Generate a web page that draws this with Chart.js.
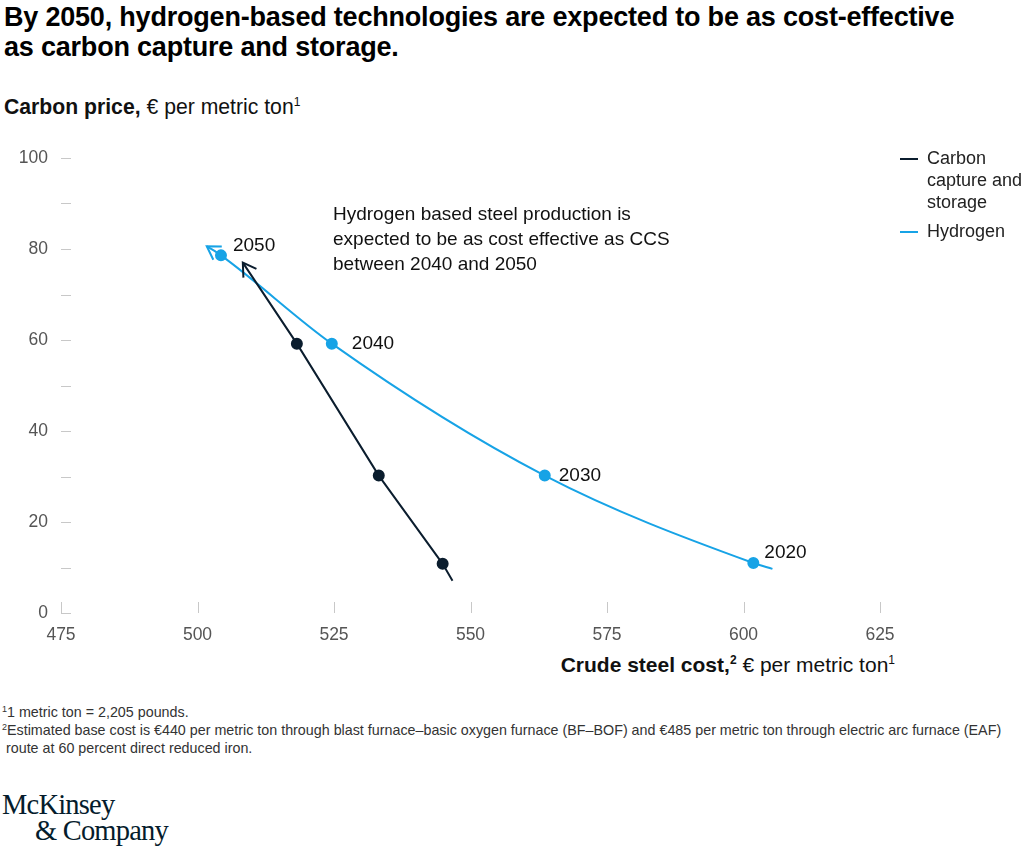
<!DOCTYPE html>
<html>
<head>
<meta charset="utf-8">
<script src="https://cdn.jsdelivr.net/npm/chart.js@4.4.1/dist/chart.umd.min.js"></script>
<style>
  body { margin: 0; width: 1024px; height: 854px; background: #fff; position: relative; overflow: hidden;
         font-family: "Liberation Sans", Arial, sans-serif; color: #111; }
  .abs { position: absolute; white-space: nowrap; }
  #title { left: 4px; top: 2px; font-size: 27px; font-weight: bold; line-height: 30px; color: #000; letter-spacing: -0.2px; }
  #ytitle { left: 4px; top: 95px; font-size: 21.2px; color: #111; }
  #xtitle { right: 129px; top: 653px; font-size: 21px; color: #111; }
  sup { font-size: 12px; vertical-align: 8px; line-height: 0; }
  #note { left: 333px; top: 201px; font-size: 19px; line-height: 25px; color: #111; }
  #legend { left: 900px; top: 147px; font-size: 18px; line-height: 22px; color: #222; }
  #legend .item { position: relative; padding-left: 27px; margin-bottom: 7px; }
  #legend .dash { position: absolute; left: 0; top: 11px; width: 18px; height: 2px; }
  #foot { left: 2px; top: 703px; font-size: 14.3px; line-height: 18px; color: #333; }
  #foot sup { font-size: 9px; vertical-align: 5px; }
  #logo { left: 2px; top: 792px; font-family: "Liberation Serif", "DejaVu Serif", serif; font-size: 28.5px;
          line-height: 26px; color: #051c2c; letter-spacing: -0.8px; }
  #wrap { position: absolute; left: 0; top: 140px; width: 1024px; height: 500px; }
</style>
</head>
<body>
<div id="title" class="abs">By 2050, hydrogen-based technologies are expected to be as cost-effective<br>as carbon capture and storage.</div>
<div id="ytitle" class="abs"><b>Carbon price,</b> € per metric ton<sup>1</sup></div>
<div id="wrap"><canvas id="chart"></canvas></div>
<div id="note" class="abs">Hydrogen based steel production is<br>expected to be as cost effective as CCS<br>between 2040 and 2050</div>
<div id="legend" class="abs">
  <div class="item"><span class="dash" style="background:#0b1d2e"></span>Carbon<br>capture and<br>storage</div>
  <div class="item"><span class="dash" style="background:#17a3e6"></span>Hydrogen</div>
</div>
<div id="xtitle" class="abs"><b>Crude steel cost,<sup>2</sup></b> € per metric ton<sup>1</sup></div>
<div id="foot" class="abs"><sup>1</sup>1 metric ton = 2,205 pounds.<br><sup>2</sup>Estimated base cost is €440 per metric ton through blast furnace–basic oxygen furnace (BF–BOF) and €485 per metric ton through electric arc furnace (EAF)<br>&nbsp;route at 60 percent direct reduced iron.</div>
<div id="logo" class="abs">McKinsey<br><span style="padding-left:33px">&amp; Company</span></div>

<script>
// values (line ends carry the arrows)
const ccsCost = [546.7, 544.9, 533.2, 518.2, 508.3];
const ccsPrice = [7.1, 10.8, 30.2, 59.2, 77.0];
const ccsMarkers = [false, true, true, true, false];

const h2Cost = [605.3, 601.8, 563.6, 524.6, 504.3, 501.7];
const h2Price = [9.7, 11.0, 30.2, 59.2, 78.6, 80.6];
const h2Markers = [false, true, true, true, true, false];
const h2Years = ["", "2020", "2030", "2040", "2050", ""];

const xTicks = [475, 500, 525, 550, 575, 600, 625];
const yTicks = [0, 20, 40, 60, 80, 100];

const navy = "#0b1d2e";
const cyan = "#17a3e6";

const toPoints = (xs, ys) => xs.map((x, i) => ({ x: x, y: ys[i] }));

// offsets of the year labels from their marker
const yearOffset = { "2020": [11, -10], "2030": [14, 0], "2040": [20, 0], "2050": [12, -10] };

const annotations = {
  id: "annotations",
  afterDatasetsDraw(chart) {
    const ctx = chart.ctx;
    const xs = chart.scales.x, ys = chart.scales.y;
    ctx.save();

    // inner tick marks
    ctx.strokeStyle = "#c8c8c8";
    ctx.lineWidth = 1;
    for (let v = 0; v <= 100; v += 10) {
      const py = Math.round(ys.getPixelForValue(v)) + 0.5;
      ctx.beginPath();
      ctx.moveTo(xs.left, py);
      ctx.lineTo(xs.left + 10, py);
      ctx.stroke();
    }
    xTicks.forEach(v => {
      const px = Math.round(xs.getPixelForValue(v)) + 0.5;
      ctx.beginPath();
      ctx.moveTo(px, ys.bottom);
      ctx.lineTo(px, ys.bottom - 11);
      ctx.stroke();
    });

    // arrowheads at the end of each line
    chart.data.datasets.forEach((ds, di) => {
      const pts = chart.getDatasetMeta(di).data;
      const end = pts[pts.length - 1];
      let fx = pts[pts.length - 2].x, fy = pts[pts.length - 2].y;
      if (end.cp1x !== undefined && Math.hypot(end.cp1x - end.x, end.cp1y - end.y) > 0.5) {
        fx = end.cp1x; fy = end.cp1y;
      }
      const a = Math.atan2(end.y - fy, end.x - fx);
      const len = 15, spread = 0.55;
      ctx.strokeStyle = ds.borderColor;
      ctx.lineWidth = 2;
      ctx.beginPath();
      ctx.moveTo(end.x - len * Math.cos(a - spread), end.y - len * Math.sin(a - spread));
      ctx.lineTo(end.x, end.y);
      ctx.lineTo(end.x - len * Math.cos(a + spread), end.y - len * Math.sin(a + spread));
      ctx.stroke();
    });

    // year labels on the hydrogen markers
    const h2 = chart.getDatasetMeta(1).data;
    ctx.fillStyle = "#111";
    ctx.font = "19px 'Liberation Sans', Arial, sans-serif";
    ctx.textBaseline = "middle";
    ctx.textAlign = "left";
    h2Years.forEach((yr, i) => {
      if (!yr) return;
      const off = yearOffset[yr];
      ctx.fillText(yr, h2[i].x + off[0], h2[i].y + off[1]);
    });
    ctx.restore();
  }
};

new Chart(document.getElementById("chart"), {
  type: "scatter",
  data: {
    datasets: [
      {
        label: "Carbon capture and storage",
        data: toPoints(ccsCost, ccsPrice),
        showLine: true,
        borderColor: navy,
        backgroundColor: navy,
        borderWidth: 2,
        pointRadius: ccsMarkers.map(m => (m ? 5 : 0)),
        pointHoverRadius: 0,
        tension: 0
      },
      {
        label: "Hydrogen",
        data: toPoints(h2Cost, h2Price),
        showLine: true,
        borderColor: cyan,
        backgroundColor: cyan,
        borderWidth: 2,
        pointRadius: h2Markers.map(m => (m ? 5 : 0)),
        pointHoverRadius: 0,
        cubicInterpolationMode: "monotone"
      }
    ]
  },
  options: {
    responsive: true,
    maintainAspectRatio: false,
    animation: false,
    layout: { padding: { top: 18, right: 144, left: 0, bottom: 0 } },
    plugins: { legend: { display: false }, tooltip: { enabled: false } },
    scales: {
      x: {
        type: "linear",
        min: 475,
        max: 625,
        afterFit: s => { s.height = 27; s.paddingLeft = 0; s.paddingRight = 0; },
        afterBuildTicks: s => { s.ticks = xTicks.map(v => ({ value: v })); },
        grid: { display: false, drawTicks: false },
        border: { display: false },
        ticks: { padding: 12, color: "#555", font: { size: 17.5, family: "'Liberation Sans', Arial, sans-serif" } }
      },
      y: {
        min: 0,
        max: 100,
        afterFit: s => { s.width = 61; s.paddingTop = 0; s.paddingBottom = 0; },
        afterBuildTicks: s => { s.ticks = yTicks.map(v => ({ value: v })); },
        grid: { display: false, drawTicks: false },
        border: { display: false },
        ticks: { padding: 13, color: "#555", font: { size: 17.5, family: "'Liberation Sans', Arial, sans-serif" } }
      }
    }
  },
  plugins: [annotations]
});
</script>
</body>
</html>
